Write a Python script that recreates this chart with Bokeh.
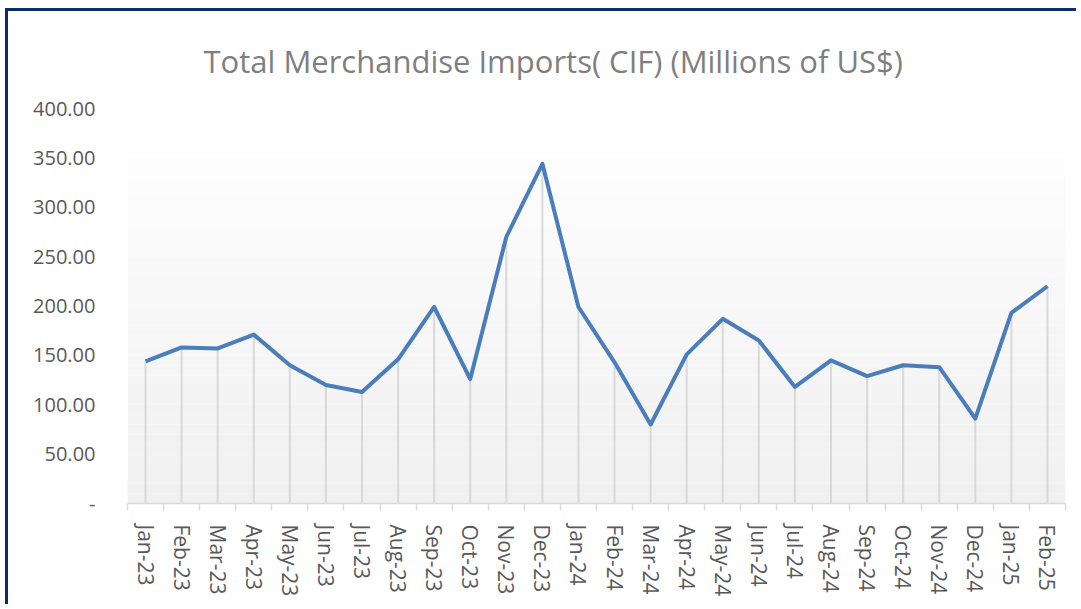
from bokeh.plotting import figure
from bokeh.models import FixedTicker, BoxAnnotation, Range1d, NumeralTickFormatter, ColumnDataSource
from bokeh.embed import file_html
from bokeh.resources import INLINE

months = ["Jan-23", "Feb-23", "Mar-23", "Apr-23", "May-23", "Jun-23", "Jul-23", "Aug-23",
          "Sep-23", "Oct-23", "Nov-23", "Dec-23", "Jan-24", "Feb-24", "Mar-24", "Apr-24",
          "May-24", "Jun-24", "Jul-24", "Aug-24", "Sep-24", "Oct-24", "Nov-24", "Dec-24",
          "Jan-25", "Feb-25"]
imports = [144, 158, 157, 171, 140, 120, 113, 146, 199, 126, 270, 344, 199, 143, 80, 151,
           187, 165, 118, 145, 129, 140, 138, 86, 193, 220]
y_ticks = [0, 50, 100, 150, 200, 250, 300, 350, 400]
y_labels = ["-", "50.00", "100.00", "150.00", "200.00", "250.00", "300.00", "350.00", "400.00"]

n = len(months)
xs = [i + 0.5 for i in range(n)]
src = ColumnDataSource(dict(x=xs, y=imports, m=months))

FONT = "Open Sans"
LABEL = "#595959"

p = figure(width=1071, height=596, output_backend="svg", toolbar_location=None,
           x_range=Range1d(0, n), y_range=Range1d(0, 400),
           min_border_left=119, min_border_right=14, min_border_top=97, min_border_bottom=104)
p.styles = {"border-top": "3px solid #0d2b66", "border-left": "3px solid #0d2b66",
            "margin-top": "8px", "margin-left": "5px"}
p.outline_line_color = None
p.background_fill_color = "white"
p.border_fill_color = "white"
p.grid.visible = False

# plot-area gradient (white at top to light grey at bottom)
nb = 35
for k in range(nb):
    t = k / (nb - 1)
    c = int(round(0xf0 + (0xfd - 0xf0) * t))
    col = "#%02x%02x%02x" % (c, c, c)
    p.add_layout(BoxAnnotation(bottom=350 * k / nb, top=350 * (k + 1) / nb,
                               fill_color=col, fill_alpha=1.0, line_color=None, level="underlay"))

p.title.text = "Total Merchandise Imports( CIF) (Millions of US$)"
p.title.align = "left"
p.title.offset = 76
p.title.text_font = FONT
p.title.text_font_size = "31px"
p.title.text_font_style = "normal"
p.title.text_color = "#7f7f7f"
p.title.standoff = 53

p.segment(x0="x", y0=0, x1="x", y1="y", source=src, line_color="#d9d9d9", line_width=2)
p.line(x="x", y="y", source=src, line_color="#4a7ebb", line_width=4, line_join="round")

xa = p.xaxis[0]
xa.ticker = FixedTicker(ticks=xs, minor_ticks=list(range(n + 1)))
xa.major_label_overrides = {x: m for x, m in zip(xs, months)}
xa.major_label_orientation = "vertical"
xa.major_label_text_font = FONT
xa.major_label_text_font_size = "21px"
xa.major_label_text_color = LABEL
xa.major_tick_line_color = None
xa.major_tick_out = 0
xa.major_tick_in = 0
xa.minor_tick_line_color = "#d9d9d9"
xa.minor_tick_line_width = 1.5
xa.minor_tick_out = 7
xa.minor_tick_in = 0
xa.axis_line_color = "#d9d9d9"
xa.axis_line_width = 1.5
xa.major_label_standoff = 14

ya = p.yaxis[0]
ya.ticker = FixedTicker(ticks=y_ticks)
ya.formatter = NumeralTickFormatter(format="0.00")
ya.major_label_overrides = {t: l for t, l in zip(y_ticks, y_labels)}
ya.major_label_text_font = FONT
ya.major_label_text_font_size = "20px"
ya.major_label_text_color = LABEL
ya.axis_line_color = None
ya.major_tick_line_color = None
ya.minor_tick_line_color = None
ya.major_tick_out = 0
ya.major_tick_in = 0
ya.major_label_standoff = 32

open("out.html", "w").write(file_html(p, INLINE))
